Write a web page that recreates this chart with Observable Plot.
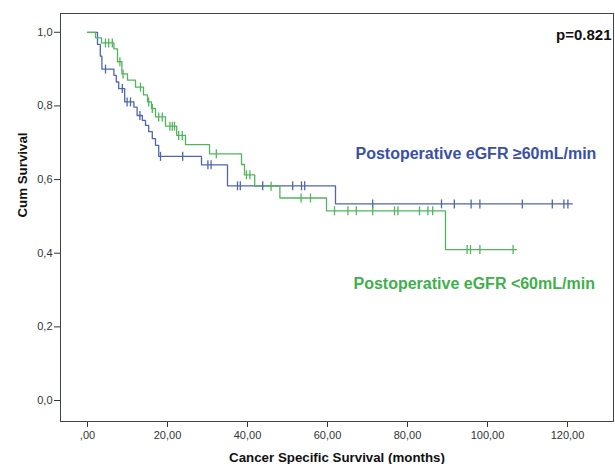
<!DOCTYPE html>
<html>
<head>
<meta charset="utf-8">
<script src="https://cdn.jsdelivr.net/npm/d3@7"></script>
<script src="https://cdn.jsdelivr.net/npm/@observablehq/plot@0.6"></script>
<style>
  html, body { margin: 0; padding: 0; background: #fff; }
  #chart { width: 615px; height: 464px; }
  svg { font-family: "Liberation Sans", Arial, sans-serif; }
</style>
</head>
<body>
<div id="chart"></div>
<script>
// ---- Data ----
const groupNames = ["Postoperative eGFR \u226560mL/min", "Postoperative eGFR <60mL/min"];
const groupColors = ["#4f66ae", "#52b55e"];
const labelColors = ["#3a50a6", "#3fb04c"];

// Group 1: eGFR >= 60 — step drops (time, survival after drop)
const hiTimes = [0, 2.5, 3.2, 3.6, 6.6, 7.2, 7.8, 9.3, 11.6, 12.4, 13.7, 14.5, 15.3, 16.2, 17.0, 17.8, 28.5, 35.0, 62.0];
const hiSurv  = [1.0, 0.967, 0.935, 0.90, 0.883, 0.865, 0.847, 0.811, 0.797, 0.774, 0.761, 0.747, 0.73, 0.711, 0.693, 0.663, 0.64, 0.583, 0.534];
const hiEnd = 121.2;
const hiCensor = [4.5, 8.7, 9.9, 10.75, 13.1, 18.25, 23.8, 30.1, 30.9, 37.5, 38.2, 43.8, 51.3, 53.5, 54.3, 71.3, 88.5, 91.7, 95.9, 98.1, 108.7, 116.2, 119.1, 120.1];

// Group 2: eGFR < 60
const loTimes = [0, 2.0, 3.5, 6.6, 7.5, 8.6, 10.0, 12.0, 14.0, 15.0, 16.0, 17.0, 19.5, 22.3, 24.5, 30.5, 38.5, 39.25, 41.8, 48.1, 59.75, 89.5];
const loSurv  = [1.0, 0.985, 0.971, 0.955, 0.92, 0.887, 0.87, 0.851, 0.83, 0.811, 0.793, 0.77, 0.745, 0.72, 0.695, 0.67, 0.641, 0.613, 0.582, 0.55, 0.515, 0.41];
const loEnd = 107.25;
const loCensor = [4.5, 5.3, 6.2, 8.1, 8.9, 13.25, 15.3, 16.2, 17.8, 18.7, 20.6, 21.2, 21.75, 22.8, 23.7, 32.2, 39.75, 40.6, 45.9, 53.4, 55.75, 61.75, 65.1, 67.2, 71.3, 76.75, 77.6, 83.0, 85.1, 86.3, 94.9, 95.75, 98.1, 106.4];

const xTicks = [0, 20, 40, 60, 80, 100, 120];
const xTickLabels = [",00", "20,00", "40,00", "60,00", "80,00", "100,00", "120,00"];
const yTicks = [0, 0.2, 0.4, 0.6, 0.8, 1.0];
const yTickLabels = ["0,0", "0,2", "0,4", "0,6", "0,8", "1,0"];
const pValueText = "p=0.821";
const xTitle = "Cancer Specific Survival (months)";
const yTitle = "Cum Survival";

// ---- Build tables ----
function curve(times, surv, end, g) {
  const pts = times.map((t, i) => ({t, s: surv[i], g}));
  pts.push({t: end, s: surv[surv.length - 1], g});
  return pts;
}
function survAt(times, surv, t) {
  let s = surv[0];
  for (let i = 0; i < times.length; i++) if (times[i] <= t) s = surv[i];
  return s;
}
const lines = [curve(hiTimes, hiSurv, hiEnd, 0), curve(loTimes, loSurv, loEnd, 1)];
const censors = [
  ...hiCensor.map(t => ({t, s: survAt(hiTimes, hiSurv, t), g: 0})),
  ...loCensor.map(t => ({t, s: survAt(loTimes, loSurv, t), g: 1}))
];

const vbar = {
  draw(context, size) {
    const r = Math.sqrt(size / Math.PI);
    context.moveTo(0, -r);
    context.lineTo(0, r);
  }
};

const chart = Plot.plot({
  width: 615,
  height: 464,
  marginLeft: 60,
  marginRight: 2,
  marginTop: 13,
  marginBottom: 43,
  style: {fontFamily: "'Liberation Sans', Arial, sans-serif", fontSize: "11px", color: "#333"},
  x: {domain: [-6.75, 131.5]},
  y: {domain: [-0.057, 1.051]},
  marks: [
    Plot.axisX({ticks: xTicks, tickFormat: d => xTickLabels[xTicks.indexOf(d)], tickSize: 6, tickPadding: 4, label: null, fontSize: 11, stroke: "#333", fill: "#333"}),
    Plot.axisY({ticks: yTicks, tickFormat: d => yTickLabels[yTicks.findIndex(v => Math.abs(v - d) < 1e-9)], tickSize: 6, tickPadding: 2, label: null, fontSize: 11, stroke: "#333", fill: "#333"}),
    ...lines.map(pts => Plot.line(pts, {x: "t", y: "s", curve: "step-after", stroke: groupColors[pts[0].g], strokeWidth: 1.3})),
    Plot.dot(censors, {x: "t", y: "s", symbol: vbar, r: 4.5, stroke: d => groupColors[d.g], strokeWidth: 1.3, fill: "none"}),
    Plot.frame({stroke: "#444", strokeWidth: 1}),
    Plot.text([pValueText], {frameAnchor: "top-right", dx: -2, dy: 22, lineAnchor: "middle", textAnchor: "end", fontWeight: "bold", fontSize: 15, fill: "#111"}),
    Plot.text([groupNames[0]], {frameAnchor: "top-left", dx: 295, dy: 140, lineAnchor: "middle", textAnchor: "start", fontWeight: "bold", fontSize: 16, fill: labelColors[0]}),
    Plot.text([groupNames[1]], {frameAnchor: "top-left", dx: 293, dy: 270, lineAnchor: "middle", textAnchor: "start", fontWeight: "bold", fontSize: 16, fill: labelColors[1]}),
    Plot.text([xTitle], {frameAnchor: "bottom", dy: 36, lineAnchor: "middle", fontWeight: "bold", fontSize: 13.3, fill: "#111"}),
    Plot.text([yTitle], {frameAnchor: "left", dx: -38, rotate: -90, lineAnchor: "middle", fontWeight: "bold", fontSize: 13.3, fill: "#111"})
  ]
});
document.getElementById("chart").appendChild(chart);
</script>
</body>
</html>
